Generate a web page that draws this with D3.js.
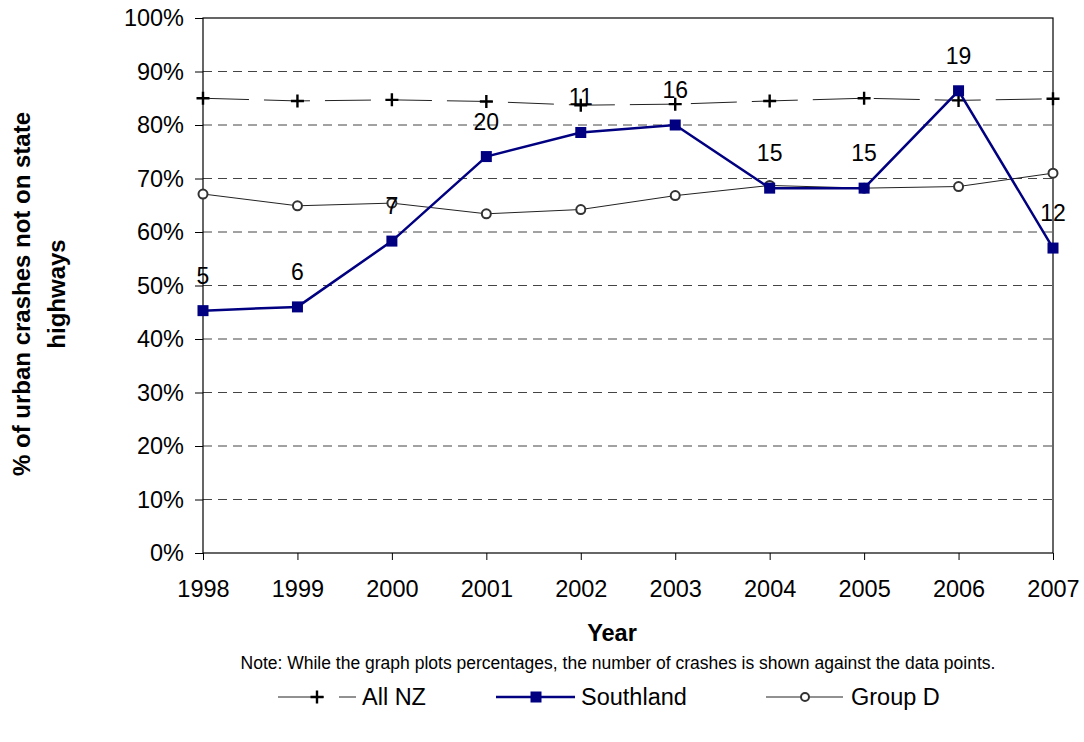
<!DOCTYPE html>
<html>
<head>
<meta charset="utf-8">
<script src="https://cdn.jsdelivr.net/npm/d3@7"></script>
<style>
  body { margin: 0; background: #fff; }
  text { font-family: Arial, "Liberation Sans", sans-serif; fill: #000; }
</style>
</head>
<body>
<div id="container"></div>
<script>
// chart data
let years = [1998, 1999, 2000, 2001, 2002, 2003, 2004, 2005, 2006, 2007];
let allNZ = [85.0, 84.5, 84.7, 84.4, 83.7, 83.9, 84.5, 85.0, 84.6, 84.9];
let southland = [45.3, 46.0, 58.3, 74.1, 78.6, 80.0, 68.2, 68.2, 86.4, 57.0];
let groupD = [67.1, 64.9, 65.4, 63.4, 64.2, 66.8, 68.7, 68.2, 68.5, 71.0];
let crashCounts = [5, 6, 7, 20, 11, 16, 15, 15, 19, 12];
let yTicks = [0, 10, 20, 30, 40, 50, 60, 70, 80, 90, 100];

let w = 1084;
let h = 742;
let pLeft = 203, pRight = 1053, pTop = 18, pBottom = 553;
let navy = "#000080";
let font = "Arial, 'Liberation Sans', sans-serif";

let viz = d3.select("#container")
  .append("svg")
    .attr("width", w)
    .attr("height", h)
;

let xScale = d3.scalePoint().domain(years).range([pLeft, pRight]);
let yScale = d3.scaleLinear().domain([0, 100]).range([pBottom, pTop]);

// gridlines
viz.append("g").selectAll("line").data(yTicks.filter(d => d > 0 && d < 100)).enter()
  .append("line")
    .attr("x1", pLeft).attr("x2", pRight)
    .attr("y1", d => yScale(d)).attr("y2", d => yScale(d))
    .attr("stroke", "#444")
    .attr("stroke-dasharray", "9,6")
;

// plot frame
viz.append("rect")
  .attr("x", pLeft).attr("y", pTop)
  .attr("width", pRight - pLeft).attr("height", pBottom - pTop)
  .attr("fill", "none").attr("stroke", "#000").attr("stroke-width", 1.2);

// axes
let yAxis = d3.axisLeft(yScale).tickValues(yTicks).tickSize(8).tickFormat(d => d + "%");
let yAxisGroup = viz.append("g")
  .attr("transform", "translate(" + pLeft + ",0)")
  .call(yAxis);
yAxisGroup.select(".domain").remove();
yAxisGroup.selectAll("text").attr("x", -19).attr("font-size", 23.5).attr("font-family", font);
yAxisGroup.selectAll(".tick line").attr("stroke", "#000");

let xAxis = d3.axisBottom(xScale).tickSize(7);
let xAxisGroup = viz.append("g")
  .attr("transform", "translate(0," + pBottom + ")")
  .call(xAxis);
xAxisGroup.select(".domain").remove();
xAxisGroup.selectAll("text").attr("y", 44).attr("dy", 0).attr("font-size", 23.5).attr("font-family", font);
xAxisGroup.selectAll(".tick line").attr("stroke", "#000");

// axis titles
viz.append("text")
  .attr("x", 612).attr("y", 641)
  .attr("text-anchor", "middle").attr("font-size", 23.5).attr("font-weight", "bold")
  .text("Year");
viz.append("text")
  .attr("x", 618).attr("y", 669)
  .attr("text-anchor", "middle").attr("font-size", 17.5)
  .text("Note: While the graph plots percentages, the number of crashes is shown against the data points.");

let yTitle = viz.append("text")
  .attr("transform", "translate(30,294) rotate(-90)")
  .attr("text-anchor", "middle").attr("font-size", 24).attr("font-weight", "bold");
yTitle.append("tspan").attr("x", 0).attr("y", 0).text("% of urban crashes not on state");
yTitle.append("tspan").attr("x", 0).attr("y", 35).text("highways");

let lineMaker = d3.line()
  .x((d, i) => xScale(years[i]))
  .y(d => yScale(d));

let graphGroup = viz.append("g");

// All NZ
graphGroup.append("path")
  .attr("d", lineMaker(allNZ))
  .attr("fill", "none").attr("stroke", "#222").attr("stroke-width", 1)
  .attr("stroke-dasharray", "46,15");
graphGroup.selectAll(".plus").data(allNZ).enter()
  .append("path")
    .attr("class", "plus")
    .attr("transform", (d, i) => "translate(" + xScale(years[i]) + "," + yScale(d) + ")")
    .attr("d", "M-6.5,0H6.5M0,-6.5V6.5")
    .attr("stroke", "#000").attr("stroke-width", 2.4)
;

// Group D
graphGroup.append("path")
  .attr("d", lineMaker(groupD))
  .attr("fill", "none").attr("stroke", "#222").attr("stroke-width", 1);
graphGroup.selectAll(".circ").data(groupD).enter()
  .append("circle")
    .attr("class", "circ")
    .attr("cx", (d, i) => xScale(years[i]))
    .attr("cy", d => yScale(d))
    .attr("r", 4.5)
    .attr("fill", "#fff").attr("stroke", "#333").attr("stroke-width", 2)
;

// Southland
graphGroup.append("path")
  .attr("d", lineMaker(southland))
  .attr("fill", "none").attr("stroke", navy).attr("stroke-width", 2.5);
graphGroup.selectAll(".sq").data(southland).enter()
  .append("rect")
    .attr("class", "sq")
    .attr("x", (d, i) => xScale(years[i]) - 5.5)
    .attr("y", d => yScale(d) - 5.5)
    .attr("width", 11).attr("height", 11)
    .attr("fill", navy)
;

// crash count labels
graphGroup.selectAll(".lbl").data(crashCounts).enter()
  .append("text")
    .attr("class", "lbl")
    .attr("x", (d, i) => xScale(years[i]))
    .attr("y", (d, i) => yScale(southland[i]) - 27)
    .attr("text-anchor", "middle").attr("font-size", 23)
    .text(d => d)
;

// legend
let legendY = 697;
let legend = viz.append("g");
// All NZ
legend.append("line").attr("x1", 278).attr("x2", 356).attr("y1", legendY).attr("y2", legendY)
  .attr("stroke", "#222").attr("stroke-width", 1).attr("stroke-dasharray", "46,15");
legend.append("path").attr("transform", "translate(317," + legendY + ")")
  .attr("d", "M-6.5,0H6.5M0,-6.5V6.5").attr("stroke", "#000").attr("stroke-width", 2.4);
legend.append("text").attr("x", 362).attr("y", legendY + 8).attr("font-size", 23.5).text("All NZ");
// Southland
legend.append("line").attr("x1", 496).attr("x2", 575).attr("y1", legendY).attr("y2", legendY)
  .attr("stroke", navy).attr("stroke-width", 2.5);
legend.append("rect").attr("x", 536 - 5.5).attr("y", legendY - 5.5).attr("width", 11).attr("height", 11).attr("fill", navy);
legend.append("text").attr("x", 581).attr("y", legendY + 8).attr("font-size", 23.5).text("Southland");
// Group D
legend.append("line").attr("x1", 766).attr("x2", 843).attr("y1", legendY).attr("y2", legendY)
  .attr("stroke", "#222").attr("stroke-width", 1);
legend.append("circle").attr("cx", 805).attr("cy", legendY).attr("r", 4).attr("fill", "#fff").attr("stroke", "#333").attr("stroke-width", 2);
legend.append("text").attr("x", 851).attr("y", legendY + 8).attr("font-size", 23.5).text("Group D");
</script>
</body>
</html>
